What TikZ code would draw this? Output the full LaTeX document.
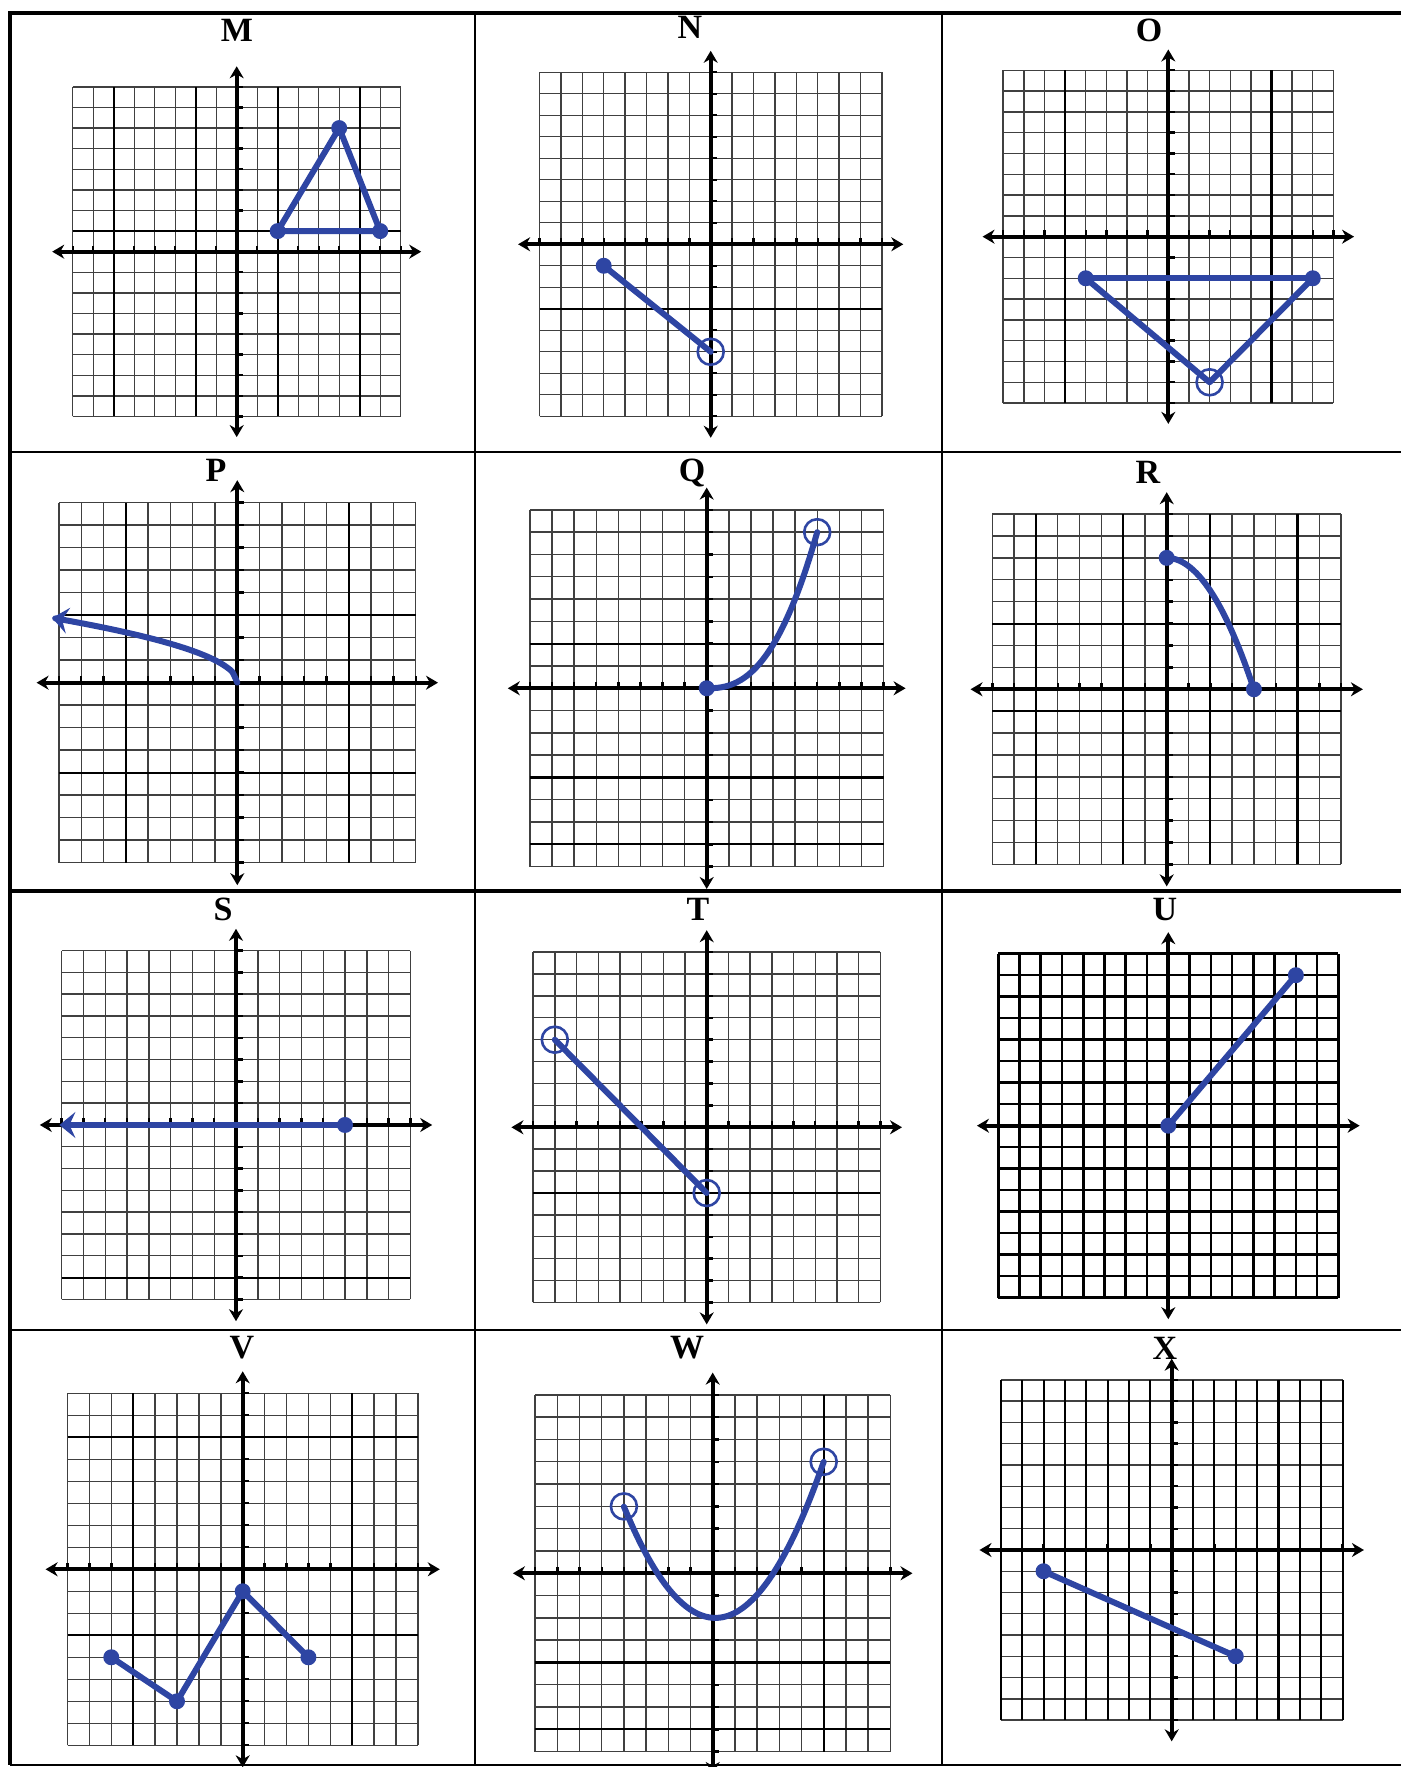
\documentclass[tikz,border=0pt]{standalone}
\usepackage{fontspec}
\setmainfont{Liberation Serif}
\usepackage{tikz}
\usetikzlibrary{arrows.meta}
\definecolor{gblue}{HTML}{2E45A3}
\definecolor{gridln}{gray}{0.25}
\tikzset{
  gline/.style   = {draw=gridln, line width=0.7pt},
  gbold/.style   = {draw=black, line width=1.05pt},
  axisln/.style  = {draw=black, line width=2pt,
                    {Stealth[length=6pt,width=7pt]}-{Stealth[length=6pt,width=7pt]}},
  tickln/.style  = {draw=black, line width=1.2pt},
  curve/.style   = {draw=gblue, line width=3pt, line cap=round, line join=round},
  endarr/.style  = {-{Stealth[length=8pt,width=13pt,inset=3pt]}},
  dotf/.style    = {circle, fill=gblue, inner sep=0pt, minimum size=8pt},
  doto/.style    = {circle, draw=gblue, line width=1.3pt, inner sep=0pt,
                    minimum size=13pt},
  plab/.style    = {font=\fontsize{17}{19}\selectfont\bfseries, inner sep=0pt},
  frm/.style     = {draw=black, line width=1pt},
  frmbold/.style = {draw=black, line width=1.6pt},
}
\newcommand{\ggrid}{%                   % 16 x 16 cells, in panel units
  \draw[gline, step=1] (-8,-8) grid (8,8);}
\newcommand{\gaxes}{%                   % both axes with their ticks
  \draw[axisln] (-9,0) -- (9,0);
  \draw[axisln] (0,-9) -- (0,9);
  \foreach \t in {-8,...,8}{
    \draw[tickln] (\t,0) -- (\t,0.3);
    \draw[tickln] (0,\t) -- (0.3,\t);}}
\newcommand{\gvert}[1]{\foreach \u in {#1}{\draw[gbold] (\u,-8) -- (\u,8);}}
\newcommand{\ghorz}[1]{\foreach \u in {#1}{\draw[gbold] (-8,\u) -- (8,\u);}}
\begin{document}
\begin{tikzpicture}[x=0.5pt,y=0.5pt]
  \useasboundingbox (0,0) rectangle (1401,1767);
  % frame of the twelve panels
  \draw[frmbold] (10,2) -- (10,1754) -- (1405,1754);
  \draw[frm] (10,2) -- (1405,2);
  \draw[frm] (10,1315) -- (1405,1315);
  \draw[frmbold] (10,876) -- (1405,876);
  \draw[frm] (10,437) -- (1405,437);
  \draw[frm] (475,2) -- (475,1754);
  \draw[frm] (942,2) -- (942,1754);

  \node[plab] (lm) at (237,1737) {M};
  \node[plab] (ln) at (690,1740) {N};
  \node[plab] (lo) at (1149,1737) {O};
  \node[plab] (lp) at (216,1297) {P};
  \node[plab] (lq) at (692,1294) {Q};
  \node[plab] (lr) at (1148,1295) {R};
  \node[plab] (ls) at (223,858) {S};
  \node[plab] (lt) at (698,858) {T};
  \node[plab] (lu) at (1165,857) {U};
  \node[plab] (lv) at (242,419) {V};
  \node[plab] (lw) at (687,419) {W};
  \node[plab] (lx) at (1165,419) {X};

  % M
  \begin{scope}[shift={(236.7,1515.3)}, x=10.25pt, y=10.3pt]
    \ggrid \gvert{-6,-2,2,6} \ghorz{1} \gaxes
    \node[dotf] (ma) at (2,1) {};
    \node[dotf] (mb) at (5,6) {};
    \node[dotf] (mc) at (7,1) {};
    \draw[curve] (ma.center) -- (mb.center) -- (mc.center) -- cycle;
  \end{scope}
  % N
  \begin{scope}[shift={(710.7,1522.7)}, x=10.7pt, y=10.75pt]
    \ggrid \ghorz{-3} \gaxes
    \node[dotf] (na) at (-5,-1) {};
    \node[doto] (nb) at (0,-5) {};
    \draw[curve] (na.center) -- (nb.center);
  \end{scope}
  % O
  \begin{scope}[shift={(1168.3,1530.3)}, x=10.32pt, y=10.4pt]
    \ggrid \gvert{-5,5} \gaxes
    \node[dotf] (oa) at (-4,-2) {};
    \node[dotf] (ob) at (7,-2) {};
    \node[doto] (oc) at (2,-7) {};
    \draw[curve] (oa.center) -- (ob.center);
    \draw[curve] (oa.center) -- (oc.center) -- (ob.center);
  \end{scope}
  % P
  \begin{scope}[shift={(237.3,1084.3)}, x=11.15pt, y=11.25pt]
    \ggrid \gvert{-5,5} \ghorz{3,-4} \gaxes
    \draw[curve, endarr] plot[smooth, domain=0:8.3, samples=40] ({-\x},{sqrt(\x)});
  \end{scope}
  % Q
  \begin{scope}[shift={(706.7,1078.7)}, x=11.05pt, y=11.15pt]
    \ggrid \ghorz{2,-4,-7} \gaxes
    \node[dotf] (qa) at (0,0) {};
    \node[doto] (qb) at (5,7) {};
    \draw[curve] plot[smooth, domain=0:5, samples=30] (\x,{0.12522*\x*\x*sqrt(\x)});
  \end{scope}
  % R
  \begin{scope}[shift={(1166.7,1077.7)}, x=10.9pt, y=10.95pt]
    \ggrid \gvert{-6,-2,2,6} \ghorz{3,-1} \gaxes
    \node[dotf] (ra) at (0,6) {};
    \node[dotf] (rb) at (4,0) {};
    \draw[curve] plot[smooth, domain=0:4, samples=30] (\x,{6-0.375*\x*\x});
  \end{scope}
  % S
  \begin{scope}[shift={(236,642)}, x=10.9pt, y=10.9pt]
    \ggrid \ghorz{-7} \gaxes
    \node[dotf] (sa) at (5,0) {};
    \coordinate (sb) at (-8.1,0);
    \draw[curve, endarr] (sa.center) -- (sb);
  \end{scope}
  % T
  \begin{scope}[shift={(706.7,639.7)}, x=10.85pt, y=10.95pt]
    \ggrid \ghorz{-3} \gaxes
    \node[doto] (ta) at (-7,4) {};
    \node[doto] (tb) at (0,-3) {};
    \draw[curve] (ta.center) -- (tb.center);
  \end{scope}
  % U
  \begin{scope}[shift={(1168.3,641.3)}, x=10.63pt, y=10.75pt]
    \draw[gbold, line width=1.3pt, step=1] (-8,-8) grid (8,8); \gaxes
    \node[dotf] (ua) at (0,0) {};
    \node[dotf] (ub) at (6,7) {};
    \draw[curve] (ua.center) -- (ub.center);
  \end{scope}
  % V
  \begin{scope}[shift={(242.7,197.7)}, x=10.95pt, y=11pt]
    \ggrid \gvert{-5,5} \ghorz{6,-3} \gaxes
    \node[dotf] (va) at (-6,-4) {};
    \node[dotf] (vb) at (-3,-6) {};
    \node[dotf] (vc) at (0,-1) {};
    \node[dotf] (vd) at (3,-4) {};
    \draw[curve] (va.center) -- (vb.center) -- (vc.center) -- (vd.center);
  \end{scope}
  % W
  \begin{scope}[shift={(712.7,193.7)}, x=11.1pt, y=11.15pt]
    \ggrid \gvert{5} \ghorz{-4,-7} \gaxes
    \node[doto] (wa) at (-4,3) {};
    \node[doto] (wb) at (5,5) {};
    \draw[curve] plot[smooth, domain=-4:5, samples=40] (\x,{0.294*(\x-0.12)*(\x-0.12)-2});
  \end{scope}
  % X
  \begin{scope}[shift={(1171.7,217)}, x=10.68pt, y=10.63pt]
    \ggrid \gvert{-8,...,8} \gaxes
    \node[dotf] (xa) at (-6,-1) {};
    \node[dotf] (xb) at (3,-5) {};
    \draw[curve] (xa.center) -- (xb.center);
  \end{scope}
\end{tikzpicture}
\end{document}
